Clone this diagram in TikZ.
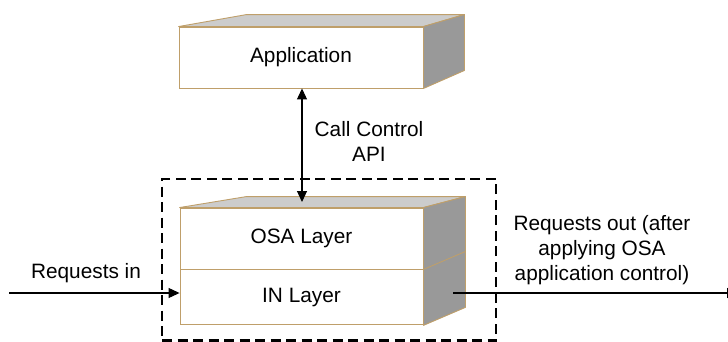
\documentclass[tikz,border=0pt]{standalone}
\usepackage{fontspec}
\setmainfont{Liberation Sans}
\usetikzlibrary{arrows.meta}
\definecolor{edge}{HTML}{BF9F6A}
\definecolor{topface}{HTML}{CCCCCC}
\definecolor{sideface}{HTML}{999999}
\tikzset{
  front/.style={draw=edge, fill=white, line width=0.9pt, inner sep=0pt},
  topshade/.style={fill=topface, draw=edge, line width=0.9pt, line join=round},
  sideshade/.style={fill=sideface, draw=edge, line width=0.9pt, line join=round},
  flow/.style={line width=1.1pt, -{Triangle[length=11pt,width=10pt]}},
  twoway/.style={line width=1.1pt, {Triangle[length=11pt,width=10pt]}-{Triangle[length=11pt,width=10pt]}},
  frame/.style={draw, line width=2.6pt, dash pattern=on 10pt off 5.5pt, inner sep=0pt},
  caption/.style={align=center, inner sep=0pt}
}
\begin{document}
\begin{tikzpicture}[x=1pt, y=-1pt, font=\fontsize{20.8}{25}\selectfont]
\useasboundingbox (0,0) rectangle (728,341);
\clip (0,0) rectangle (728,341);

% Application block
\node[front, minimum width=244pt, minimum height=61pt] (app) at (301,57.5) {Application};
\draw[topshade] (app.north west) -- ++(68,-12) -- ([shift={(41,-12)}]app.north east) -- (app.north east) -- cycle;
\draw[sideshade] (app.north east) -- ++(41,-12) -- ([shift={(41,-18)}]app.south east) -- (app.south east) -- cycle;

% OSA / IN layer stack
\node[front, minimum width=243pt, minimum height=61pt] (osa) at (301.5,238.5) {OSA Layer};
\node[front, minimum width=243pt, minimum height=55pt, anchor=north] (inl) at (osa.south) {IN Layer};
\draw[topshade] (osa.north west) -- ++(67,-11) -- ([shift={(42,-11)}]osa.north east) -- (osa.north east) -- cycle;
\draw[sideshade] (osa.north east) -- ++(42,-11) -- ([shift={(42,-18)}]inl.south east) -- (inl.south east) -- cycle;
\draw[edge, line width=0.9pt] (osa.south east) -- ++(42,-18);

% dashed boundary round the stack
\node[frame, minimum width=334pt, minimum height=161.5pt] (gw) at (329,259.75) {};

% connectors
\coordinate (apitip) at (302,202);
\draw[twoway] (app.south -| apitip) -- (apitip);

\coordinate (instart) at (9,293);
\draw[flow] (instart) -- (instart -| inl.west);

\coordinate (outstart) at (453,293);
\coordinate (outend) at (738,293);
\draw[flow] (outstart) -- (outend);

% labels
\node[caption] (apilbl) at (369,141.5) {Call Control\\API};
\node[caption] (inlbl) at (86,273) {Requests in};
\node[caption] (outlbl) at (602,250.5) {Requests out (after\\applying OSA\\application control)};
\end{tikzpicture}
\end{document}
